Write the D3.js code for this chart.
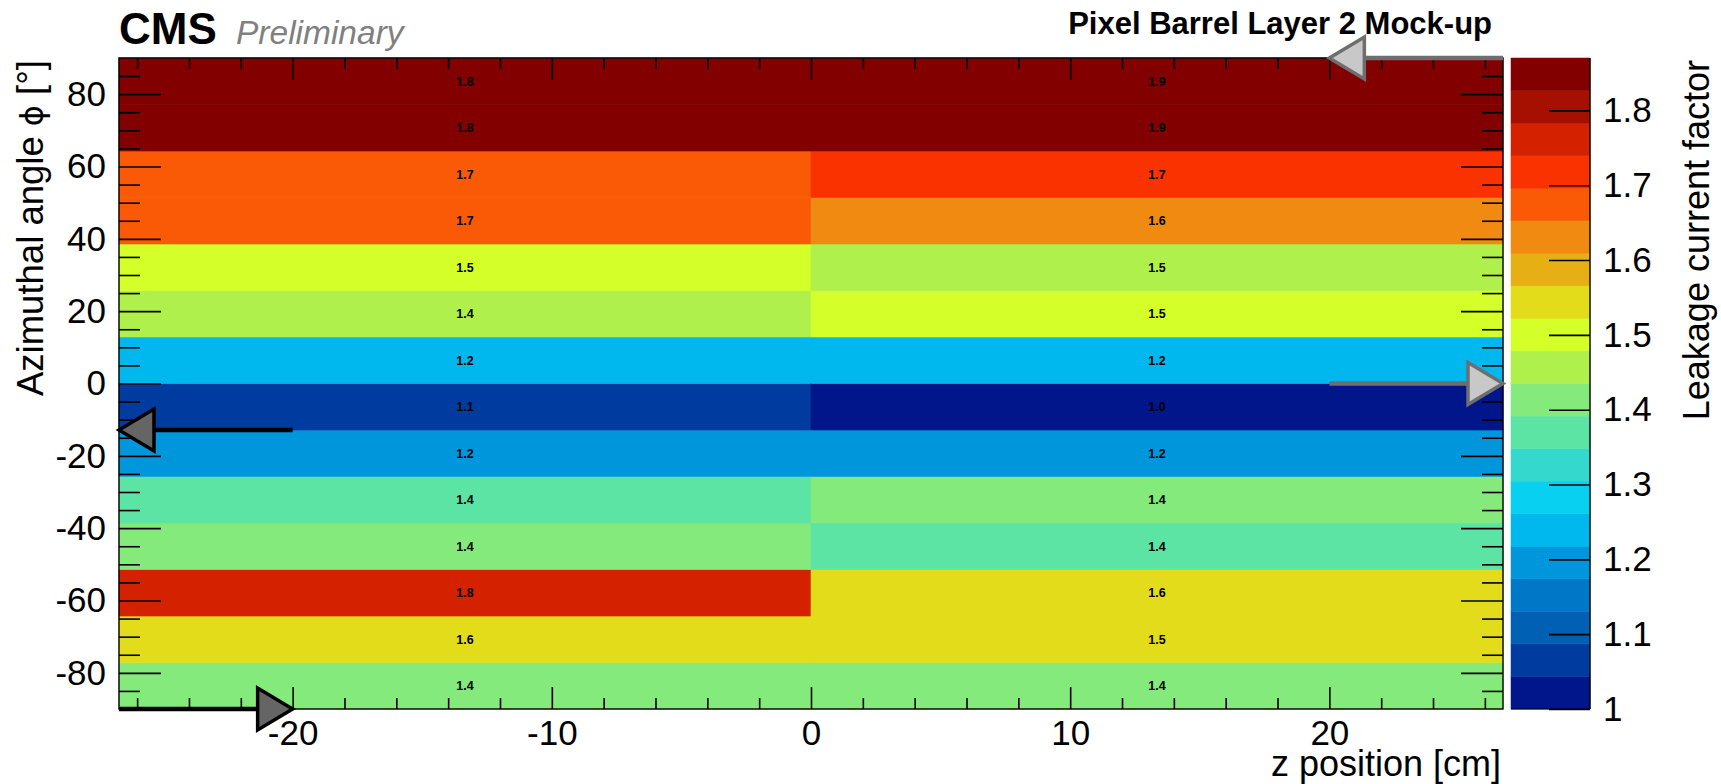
<!DOCTYPE html>
<html>
<head>
<meta charset="utf-8">
<script src="https://cdn.jsdelivr.net/npm/d3@7"></script>
<style>
  html, body { margin: 0; padding: 0; background: #fff; }
  svg { display: block; font-family: "Liberation Sans", Arial, Helvetica, sans-serif; }
</style>
</head>
<body>
<svg id="chart" width="1721" height="784"></svg>
<script>
// Bin edges of the mock-up map
const zEdges = [-26.7, 0, 26.7];
const phiEdges = [-90, -77.14, -64.29, -51.43, -38.57, -25.71, -12.86, 0, 12.86, 25.71, 38.57, 51.43, 64.29, 77.14, 90];

// Leakage current factor per phi bin (bottom to top), for z < 0 and z > 0
const leakZNeg = [1.41, 1.56, 1.77, 1.41, 1.37, 1.20, 1.06, 1.23, 1.44, 1.50, 1.68, 1.68, 1.84, 1.84];
const leakZPos = [1.41, 1.53, 1.56, 1.37, 1.41, 1.20, 1.00, 1.23, 1.50, 1.46, 1.63, 1.72, 1.86, 1.86];

// Axis ticks
const zMajor = [-20, -10, 0, 10, 20];
const zMinor = [-26, -24, -22, -18, -16, -14, -12, -8, -6, -4, -2, 2, 4, 6, 8, 12, 14, 16, 18, 22, 24, 26];
const phiMajor = [-80, -60, -40, -20, 0, 20, 40, 60, 80];
const phiMinor = [-85, -75, -70, -65, -55, -50, -45, -35, -30, -25, -15, -10, -5, 5, 10, 15, 25, 30, 35, 45, 50, 55, 65, 70, 75, 85];
const zColorTicks = [1.0, 1.1, 1.2, 1.3, 1.4, 1.5, 1.6, 1.7, 1.8];
const zColorRange = [1.0, 1.87];

// 20-step palette, lowest to highest
const palette = ["#00168a", "#003ca0", "#0060b4", "#0078c8", "#0096dc", "#00b8ee", "#08d0f0", "#34d8cc",
                 "#5ce4a4", "#84ea7c", "#b0f04c", "#d4ff28", "#e3dc1a", "#e6b014", "#f08a10", "#fa5a05",
                 "#fa3200", "#d42100", "#a51000", "#820000"];

// Markers drawn on the map: [z start, phi start, z end, phi end, style]
const arrows = [
  { z1: 26.7, p1: 90, z2: 20, p2: 90, kind: "gray" },
  { z1: 20, p1: 0, z2: 26.7, p2: 0, kind: "gray" },
  { z1: -20, p1: -12.86, z2: -26.7, p2: -12.86, kind: "black" },
  { z1: -26.7, p1: -90, z2: -20, p2: -90, kind: "black" }
];

const frame = { left: 119, right: 1503, top: 58, bottom: 709 };
const bar = { left: 1511, right: 1590 };

const svg = d3.select("#chart");
const x = d3.scaleLinear().domain([zEdges[0], zEdges[zEdges.length - 1]]).range([frame.left, frame.right]);
const y = d3.scaleLinear().domain([phiEdges[0], phiEdges[phiEdges.length - 1]]).range([frame.bottom, frame.top]);
const color = d3.scaleQuantize().domain(zColorRange).range(palette);
const cy = d3.scaleLinear().domain(zColorRange).range([frame.bottom, frame.top]);

// Cells
const cells = [];
[leakZNeg, leakZPos].forEach((col, ci) => {
  col.forEach((v, ri) => {
    cells.push({ z0: zEdges[ci], z1: zEdges[ci + 1], p0: phiEdges[ri], p1: phiEdges[ri + 1], v });
  });
});

const gCells = svg.append("g");
gCells.selectAll("rect").data(cells).join("rect")
  .attr("x", d => x(d.z0))
  .attr("y", d => y(d.p1))
  .attr("width", d => x(d.z1) - x(d.z0))
  .attr("height", d => y(d.p0) - y(d.p1))
  .attr("fill", d => color(d.v))
  .attr("stroke", d => color(d.v))
  .attr("stroke-width", 0.6);

const fmt1 = d3.format(".1f");
gCells.selectAll("text").data(cells).join("text")
  .attr("x", d => x((d.z0 + d.z1) / 2))
  .attr("y", d => y((d.p0 + d.p1) / 2))
  .attr("dy", "0.36em")
  .attr("text-anchor", "middle")
  .attr("font-size", 12.5)
  .attr("font-weight", "bold")
  .attr("fill", "#000")
  .text(d => fmt1(d.v));

// Axes with ticks pointing inward on all four sides
function styleAxis(g, fontSize) {
  g.select(".domain").remove();
  g.selectAll(".tick line").attr("stroke", "#000").attr("stroke-width", 1.6);
  g.selectAll(".tick text").attr("fill", "#000").attr("font-size", fontSize)
    .attr("font-family", "'Liberation Sans', Arial, sans-serif");
}
const plain = d => String(d);

svg.append("g").attr("transform", `translate(0,${frame.bottom})`)
  .call(d3.axisBottom(x).tickValues(zMajor).tickSize(-22).tickPadding(11).tickFormat(plain))
  .call(g => styleAxis(g, 35));
svg.append("g").attr("transform", `translate(0,${frame.bottom})`)
  .call(d3.axisBottom(x).tickValues(zMinor).tickSize(-11).tickFormat(""))
  .call(g => styleAxis(g, 0));
svg.append("g").attr("transform", `translate(0,${frame.top})`)
  .call(d3.axisTop(x).tickValues(zMajor).tickSize(-22).tickFormat(""))
  .call(g => styleAxis(g, 0));
svg.append("g").attr("transform", `translate(0,${frame.top})`)
  .call(d3.axisTop(x).tickValues(zMinor).tickSize(-11).tickFormat(""))
  .call(g => styleAxis(g, 0));

svg.append("g").attr("transform", `translate(${frame.left},0)`)
  .call(d3.axisLeft(y).tickValues(phiMajor).tickSize(-42).tickPadding(13).tickFormat(plain))
  .call(g => styleAxis(g, 35));
svg.append("g").attr("transform", `translate(${frame.left},0)`)
  .call(d3.axisLeft(y).tickValues(phiMinor).tickSize(-21).tickFormat(""))
  .call(g => styleAxis(g, 0));
svg.append("g").attr("transform", `translate(${frame.right},0)`)
  .call(d3.axisRight(y).tickValues(phiMajor).tickSize(-42).tickFormat(""))
  .call(g => styleAxis(g, 0));
svg.append("g").attr("transform", `translate(${frame.right},0)`)
  .call(d3.axisRight(y).tickValues(phiMinor).tickSize(-21).tickFormat(""))
  .call(g => styleAxis(g, 0));

// Frame
svg.append("rect")
  .attr("x", frame.left).attr("y", frame.top)
  .attr("width", frame.right - frame.left).attr("height", frame.bottom - frame.top)
  .attr("fill", "none").attr("stroke", "#000").attr("stroke-width", 1.4);

// Colour bar
const bands = palette.map((c, i) => {
  const step = (zColorRange[1] - zColorRange[0]) / palette.length;
  return { lo: zColorRange[0] + i * step, hi: zColorRange[0] + (i + 1) * step, c };
});
svg.append("g").selectAll("rect").data(bands).join("rect")
  .attr("x", bar.left)
  .attr("y", d => cy(d.hi))
  .attr("width", bar.right - bar.left)
  .attr("height", d => cy(d.lo) - cy(d.hi))
  .attr("fill", d => d.c)
  .attr("stroke", d => d.c)
  .attr("stroke-width", 0.5);
svg.append("g").attr("transform", `translate(${bar.right},0)`)
  .call(d3.axisRight(cy).tickValues(zColorTicks).tickSize(-41).tickPadding(13)
    .tickFormat(d => d === 1 ? "1" : d3.format(".1f")(d)))
  .call(g => styleAxis(g, 35));
svg.append("line")
  .attr("x1", bar.right).attr("x2", bar.right)
  .attr("y1", frame.top).attr("y2", frame.bottom)
  .attr("stroke", "#000").attr("stroke-width", 1.4);
svg.append("line")
  .attr("x1", bar.left).attr("x2", bar.right)
  .attr("y1", frame.bottom).attr("y2", frame.bottom)
  .attr("stroke", "#000").attr("stroke-width", 1.2);

// Arrows
const arrowStyle = {
  gray: { line: "#6e6e6e", head: "#c8c8c8" },
  black: { line: "#000000", head: "#656565" }
};
const headLen = 35, headHalf = 21;
const gArr = svg.append("g");
arrows.forEach(a => {
  const xa = x(a.z1), ya = y(a.p1), xb = x(a.z2), yb = y(a.p2);
  const ang = Math.atan2(yb - ya, xb - xa);
  const ux = Math.cos(ang), uy = Math.sin(ang);
  const bx = xb - ux * headLen, by = yb - uy * headLen;
  const st = arrowStyle[a.kind];
  gArr.append("line")
    .attr("x1", xa).attr("y1", ya).attr("x2", bx).attr("y2", by)
    .attr("stroke", st.line).attr("stroke-width", 4.5);
  const pts = [[xb, yb], [bx - uy * headHalf, by + ux * headHalf], [bx + uy * headHalf, by - ux * headHalf]];
  gArr.append("polygon")
    .attr("points", pts.map(p => p.join(",")).join(" "))
    .attr("fill", st.head).attr("stroke", st.line).attr("stroke-width", 3.5)
    .attr("stroke-linejoin", "miter");
});

// Titles
svg.append("text")
  .attr("x", 1501).attr("y", 776)
  .attr("text-anchor", "end").attr("font-size", 36)
  .text("z position [cm]");

const yTitle = svg.append("text")
  .attr("transform", "translate(43,60) rotate(-90)")
  .attr("text-anchor", "end").attr("font-size", 36.5);
yTitle.append("tspan").text("Azimuthal angle ");
yTitle.append("tspan").attr("font-family", "'DejaVu Sans', sans-serif").attr("font-size", 32).text("ϕ");
yTitle.append("tspan").text(" [°]");

svg.append("text")
  .attr("transform", "translate(1709,60) rotate(-90)")
  .attr("text-anchor", "end").attr("font-size", 36)
  .text("Leakage current factor");

svg.append("text").attr("x", 119).attr("y", 44)
  .attr("font-weight", "bold").attr("font-size", 44).text("CMS");
svg.append("text").attr("x", 236).attr("y", 44)
  .attr("font-style", "italic").attr("fill", "#808080").attr("font-size", 33.5).text("Preliminary");

svg.append("text")
  .attr("x", 1492).attr("y", 34)
  .attr("text-anchor", "end").attr("font-size", 31).attr("font-weight", "bold")
  .text("Pixel Barrel Layer 2 Mock-up");
</script>
</body>
</html>
